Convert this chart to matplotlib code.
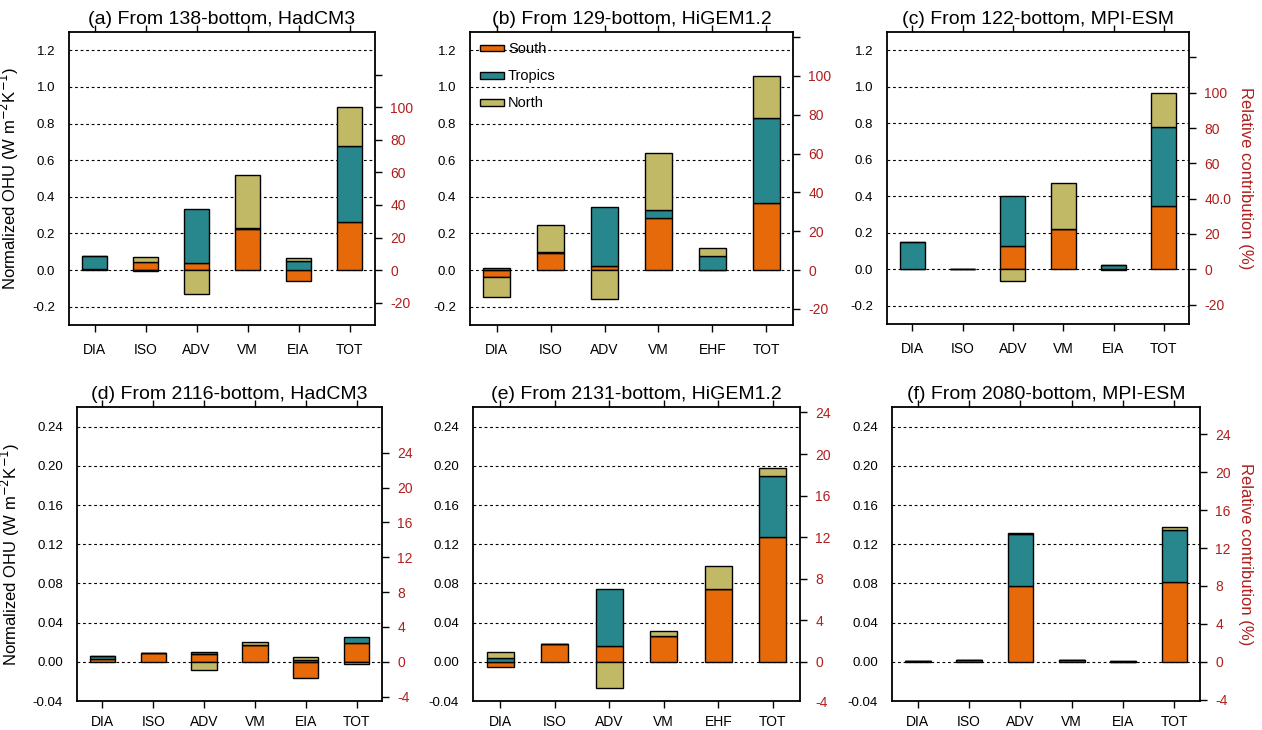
import matplotlib
matplotlib.use("Agg")
import matplotlib.pyplot as plt
from matplotlib.patches import Patch
import numpy as np

plt.rcParams['font.family'] = ['Liberation Sans', 'DejaVu Sans']
plt.rcParams['axes.unicode_minus'] = False

# ---------------- data ----------------
titles = ["(a) From 138-bottom, HadCM3", "(b) From 129-bottom, HiGEM1.2", "(c) From 122-bottom, MPI-ESM",
          "(d) From 2116-bottom, HadCM3", "(e) From 2131-bottom, HiGEM1.2", "(f) From 2080-bottom, MPI-ESM"]
cats_had = ["DIA", "ISO", "ADV", "VM", "EIA", "TOT"]
cats_hig = ["DIA", "ISO", "ADV", "VM", "EHF", "TOT"]
cats_mpi = ["DIA", "ISO", "ADV", "VM", "EIA", "TOT"]
regions = ["South", "Tropics", "North"]

# top row (W m-2 K-1)
a_south   = [0.005, 0.044, 0.038, 0.225, -0.062, 0.262]
a_tropics = [0.073, -0.005, 0.298, 0.005, 0.049, 0.418]
a_north   = [0.000, 0.027, -0.131, 0.288, 0.016, 0.209]

b_south   = [-0.037, 0.091, 0.022, 0.287, 0.003, 0.365]
b_tropics = [0.011, 0.007, 0.320, 0.040, 0.076, 0.464]
b_north   = [-0.110, 0.147, -0.160, 0.311, 0.042, 0.231]

c_south   = [0.003, 0.002, 0.128, 0.220, -0.005, 0.347]
c_tropics = [0.144, 0.000, 0.272, 0.000, 0.024, 0.435]
c_north   = [0.000, 0.000, -0.064, 0.255, 0.000, 0.185]

# bottom row (W m-2 K-1)
d_south   = [0.003, 0.0092, 0.0075, 0.0170, -0.0166, 0.0187]
d_tropics = [0.0027, 0.0, 0.0027, 0.0, 0.0014, 0.0068]
d_north   = [0.0, 0.0, -0.0085, 0.0037, 0.0034, -0.0024]

e_south   = [-0.0048, 0.0177, 0.0163, 0.0260, 0.0740, 0.1277]
e_tropics = [0.0041, 0.0, 0.0584, 0.0005, 0.0, 0.0621]
e_north   = [0.0058, 0.0, -0.0269, 0.0048, 0.0240, 0.0082]

f_south   = [0.0004, 0.0022, 0.0774, 0.0022, 0.0003, 0.0818]
f_tropics = [0.0002, 0.0, 0.0526, 0.0, 0.0002, 0.0523]
f_north   = [0.0, 0.0, 0.0017, 0.0, 0.0, 0.0037]

top_yticks = [-0.2, 0.0, 0.2, 0.4, 0.6, 0.8, 1.0, 1.2]
top_ylabels = ["-0.2", "0.0", "0.2", "0.4", "0.6", "0.8", "1.0", "1.2"]
bot_yticks = [-0.04, 0.0, 0.04, 0.08, 0.12, 0.16, 0.20, 0.24]
bot_ylabels = ["-0.04", "0.00", "0.04", "0.08", "0.12", "0.16", "0.20", "0.24"]
top_rticks = [-20, 0, 20, 40, 60, 80, 100, 120]
top_rlabels_std = ["-20", "0", "20", "40", "60", "80", "100", ""]
top_rlabels_c = ["-20", "0", "20", "40.0", "60", "80", "100", ""]
bot_rticks = [-4, 0, 4, 8, 12, 16, 20, 24]
bot_rlabels = ["-4", "0", "4", "8", "12", "16", "20", "24"]

colors = ["#E6690A", "#28878C", "#C2B966"]
red = "#B01E1E"

# ---------------- figure ----------------
W, H = 1262, 730
fig = plt.figure(figsize=(W / 100, H / 100), dpi=100)

def rect(l, r, t, b):
    return [l / W, 1 - b / H, (r - l) / W, (b - t) / H]

positions = [rect(69, 375, 32, 325), rect(470, 793, 32, 325), rect(887, 1189, 32, 324),
             rect(77, 382, 407, 701), rect(473, 800, 407, 701), rect(892, 1200, 407, 701)]

panels = [
    (a_south, a_tropics, a_north, cats_had),
    (b_south, b_tropics, b_north, cats_hig),
    (c_south, c_tropics, c_north, cats_mpi),
    (d_south, d_tropics, d_north, cats_had),
    (e_south, e_tropics, e_north, cats_hig),
    (f_south, f_tropics, f_north, cats_mpi),
]
totals = [sum(a_south[5:] + a_tropics[5:] + a_north[5:]),
          sum(b_south[5:] + b_tropics[5:] + b_north[5:]),
          sum(c_south[5:] + c_tropics[5:] + c_north[5:])]

for i, (south, trop, north, cats) in enumerate(panels):
    ax = fig.add_axes(positions[i])
    top = i < 3
    ylim = (-0.3, 1.3) if top else (-0.04, 0.26)
    x = np.arange(1, len(cats) + 1)
    pos_base = np.zeros(len(cats))
    neg_base = np.zeros(len(cats))
    for vals, col, lab in zip([south, trop, north], colors, regions):
        v = np.array(vals, dtype=float)
        base = np.where(v >= 0, pos_base, neg_base)
        ax.bar(x, v, 0.5, bottom=base, color=col, edgecolor="black", linewidth=1.0,
               zorder=3, label=lab)
        pos_base = pos_base + np.where(v >= 0, v, 0)
        neg_base = neg_base + np.where(v < 0, v, 0)
    ax.set_xlim(0.5, len(cats) + 0.5)
    ax.set_ylim(*ylim)
    yt = top_yticks if top else bot_yticks
    yl = top_ylabels if top else bot_ylabels
    ax.set_yticks(yt)
    ax.set_yticklabels(yl)
    for yv in yt:
        ax.axhline(yv, color="black", lw=0.8, ls=(0, (2.5, 2.5)), zorder=1)
    ax.tick_params(axis="y", length=0, pad=10, labelsize=9.5)
    ax.set_xticks(x)
    ax.set_xticklabels(cats)
    ax.tick_params(axis="x", direction="out", length=5, width=1, pad=8 if top else 5,
                   labelsize=10, top=True, bottom=True)
    for s in ax.spines.values():
        s.set_linewidth(1.3)
    ax.set_title(titles[i], fontsize=14, pad=6)

    # right axis: relative contribution (%)
    T = totals[i % 3]
    ax2 = ax.twinx()
    ax2.set_ylim(ylim[0] / T * 100, ylim[1] / T * 100)
    rt = top_rticks if top else bot_rticks
    if top:
        rl = top_rlabels_c if i == 2 else top_rlabels_std
    else:
        rl = bot_rlabels
    lo, hi = ax2.get_ylim()
    inr = [(t, l) for t, l in zip(rt, rl) if lo <= t <= hi]
    ax2.set_yticks([t for t, _ in inr])
    ax2.set_yticklabels([l for _, l in inr])
    ax2.tick_params(axis="y", direction="out", length=5, width=1, pad=6,
                    labelsize=10, labelcolor=red)
    for t, l in zip(rt, rl):
        if not (lo <= t <= hi):
            ax2.annotate(l, xy=(1, t), xycoords=("axes fraction", "data"),
                         xytext=(11, 0), textcoords="offset points", color=red,
                         fontsize=10, va="center", ha="left", annotation_clip=False)
    for s in ax2.spines.values():
        s.set_visible(False)
    if i % 3 == 2:
        ax2.set_ylabel("Relative contribution (%)", color=red, fontsize=12,
                       rotation=270, labelpad=16)
    if i % 3 == 0:
        ax.set_ylabel("Normalized OHU (W m$^{-2}$K$^{-1}$)", fontsize=12, labelpad=8)
    if i == 1:
        handles = [Patch(facecolor=c, edgecolor="black", linewidth=1.0) for c in colors]
        ax.legend(handles, regions, loc="upper left", frameon=False, fontsize=10.5,
                  handlelength=1.6, handleheight=0.35, handletextpad=0.3,
                  labelspacing=0.9, borderaxespad=0.3, bbox_to_anchor=(0.0, 1.0))

fig.savefig("out.png", dpi=100)
